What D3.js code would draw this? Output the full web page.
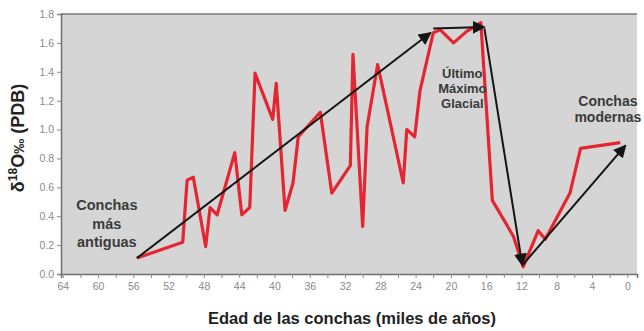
<!DOCTYPE html>
<html>
<head>
<meta charset="utf-8">
<script src="https://cdn.jsdelivr.net/npm/d3@7"></script>
<style>
  body { margin: 0; background: #fff; }
  svg { display: block; font-family: "Liberation Sans", Arial, sans-serif; }
</style>
</head>
<body>
<svg id="chart"></svg>
<script>
// red series: age (ka) and delta 18O
const ages = [55.6, 50.4, 49.9, 49.2, 47.8, 47.3, 46.5, 44.5, 43.7, 42.8, 42.2, 40.2, 39.8,
  38.8, 37.9, 37.3, 34.8, 33.5, 31.4, 31.1, 30.0, 29.5, 28.3, 25.4, 25.0, 24.1, 23.5,
  22.0, 21.2, 19.7, 18.2, 16.6, 15.3, 12.9, 11.8, 10.1, 9.3, 6.5, 5.3, 0.8];
const values = [0.11, 0.22, 0.65, 0.67, 0.19, 0.46, 0.41, 0.84, 0.41, 0.46, 1.39, 1.07, 1.32,
  0.44, 0.63, 0.95, 1.12, 0.56, 0.75, 1.52, 0.33, 1.02, 1.45, 0.63, 1.0, 0.95, 1.27,
  1.67, 1.69, 1.60, 1.68, 1.74, 0.51, 0.26, 0.05, 0.30, 0.24, 0.56, 0.87, 0.91];

// black arrows [fromAge, fromVal, toAge, toVal]
const arrows = [
  [55.6, 0.11, 22.3, 1.67],
  [22.0, 1.70, 16.2, 1.71],
  [16.2, 1.70, 11.9, 0.06],
  [11.9, 0.06, 0.2, 0.89]
];

const xTicks = [64, 60, 56, 52, 48, 44, 40, 36, 32, 28, 24, 20, 16, 12, 8, 4, 0];
const yTicks = [0, 0.2, 0.4, 0.6, 0.8, 1.0, 1.2, 1.4, 1.6, 1.8];

const notes = [
  { lines: ["Conchas", "más", "antiguas"], age: 59.0, val: 0.443, size: 14.5, step: 18.5 },
  { lines: ["Último", "Máximo", "Glacial"], age: 18.7, val: 1.357, size: 13, step: 15 },
  { lines: ["Conchas", "modernas"], age: 2.2, val: 1.16, size: 14, step: 16 }
];

const WIDTH = 644, HEIGHT = 331;
const svg = d3.select("#chart").attr("width", WIDTH).attr("height", HEIGHT);

const xScale = d3.scaleLinear().domain([64.2, -1.1]).range([61, 637]);
const yScale = d3.scaleLinear().domain([0, 1.8]).range([274, 14]);

// plot background
svg.append("rect")
  .attr("x", xScale(64.2)).attr("y", yScale(1.8))
  .attr("width", xScale(-1.1) - xScale(64.2))
  .attr("height", yScale(0) - yScale(1.8))
  .attr("fill", "#d5d5d5");

svg.append("line")
  .attr("x1", xScale(64.2)).attr("x2", xScale(-1.1))
  .attr("y1", yScale(1.8)).attr("y2", yScale(1.8))
  .attr("stroke", "#7a7a7a").attr("stroke-width", 1.5);

// axes
const xAxis = svg.append("g")
  .attr("transform", `translate(0,${yScale(0)})`)
  .call(d3.axisBottom(xScale).tickValues(d3.range(64, -1, -2)).tickSize(4)
    .tickFormat(d => xTicks.includes(d) ? d : ""));
xAxis.selectAll("text").attr("fill", "#8a8a8a").attr("font-size", 10.5).attr("dy", "0.9em");
xAxis.selectAll("line").attr("stroke", "#8a8a8a");
xAxis.select(".domain").attr("stroke", "#6f6f6f").attr("stroke-width", 1.5);

const yAxis = svg.append("g")
  .attr("transform", `translate(${xScale(64.2)},0)`)
  .call(d3.axisLeft(yScale).tickValues(yTicks).tickSize(4).tickFormat(d3.format(".1f")));
yAxis.selectAll("text").attr("fill", "#8a8a8a").attr("font-size", 10.5);
yAxis.selectAll("line").attr("stroke", "#8a8a8a");
yAxis.select(".domain").attr("stroke", "#6f6f6f").attr("stroke-width", 1.5);

// red line
const data = ages.map((a, i) => ({ age: a, val: values[i] }));
svg.append("path")
  .datum(data)
  .attr("d", d3.line().x(d => xScale(d.age)).y(d => yScale(d.val)))
  .attr("fill", "none")
  .attr("stroke", "#e42532")
  .attr("stroke-width", 3.2)
  .attr("stroke-linejoin", "round");

// arrows
svg.append("defs").append("marker")
  .attr("id", "head")
  .attr("viewBox", "0 0 10 10")
  .attr("refX", 9).attr("refY", 5)
  .attr("markerWidth", 6.5).attr("markerHeight", 6.5)
  .attr("markerUnits", "strokeWidth")
  .attr("orient", "auto")
  .append("path").attr("d", "M0,0 L10,5 L0,10 z").attr("fill", "#151515");

svg.selectAll(".arrow")
  .data(arrows)
  .enter()
  .append("line")
    .attr("class", "arrow")
    .attr("x1", d => xScale(d[0])).attr("y1", d => yScale(d[1]))
    .attr("x2", d => xScale(d[2])).attr("y2", d => yScale(d[3]))
    .attr("stroke", "#151515")
    .attr("stroke-width", 2)
    .attr("marker-end", "url(#head)");

// annotations
notes.forEach(n => {
  const t = svg.append("text")
    .attr("x", xScale(n.age)).attr("y", yScale(n.val))
    .attr("text-anchor", "middle")
    .attr("font-size", n.size)
    .attr("font-weight", "bold")
    .attr("fill", "#3a3a3a");
  n.lines.forEach((l, i) => {
    t.append("tspan").attr("x", xScale(n.age)).attr("dy", i === 0 ? 0 : n.step).text(l);
  });
});

// axis titles
svg.append("text")
  .attr("x", 352).attr("y", 324)
  .attr("text-anchor", "middle")
  .attr("font-size", 16.5).attr("font-weight", "bold")
  .attr("fill", "#222")
  .text("Edad de las conchas (miles de años)");

const yl = svg.append("text")
  .attr("transform", "translate(24,138) rotate(-90)")
  .attr("text-anchor", "middle")
  .attr("font-size", 18).attr("font-weight", "bold")
  .attr("fill", "#222");
yl.append("tspan").text("δ");
yl.append("tspan").attr("font-size", 12).attr("dy", -7).text("18");
yl.append("tspan").attr("dy", 7).text("O");
yl.append("tspan").attr("font-size", 15).text("‰");
yl.append("tspan").text(" (PDB)");
</script>
</body>
</html>
